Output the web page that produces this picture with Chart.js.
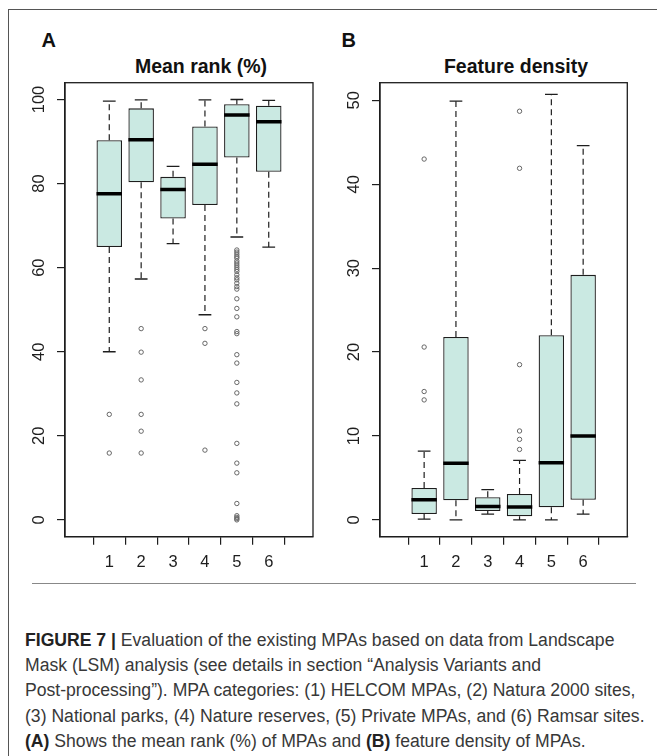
<!DOCTYPE html>
<html>
<head>
<meta charset="utf-8">
<script src="https://cdn.jsdelivr.net/npm/chart.js@4.4.1/dist/chart.umd.min.js"></script>
<style>
  body { margin: 0; background: #fff; font-family: "Liberation Sans", Arial, sans-serif; }
  #page { position: relative; width: 657px; height: 756px; overflow: hidden; background: #fff; }
  #frame { position: absolute; left: 8px; top: 9px; right: -10px; bottom: -10px;
           border-left: 1.5px solid #555; border-top: 1.5px solid #555; }
  .panel { position: absolute; font-weight: bold; font-size: 20px; line-height: 20px; color: #111; }
  .title { position: absolute; width: 300px; text-align: center; font-weight: bold;
           font-size: 19.5px; line-height: 19.5px; color: #111; }
  .wrap { position: absolute; top: 20px; width: 310px; height: 560px; }
  #rule { position: absolute; left: 32px; top: 583px; width: 604px; height: 0; border-top: 1.5px solid #888; }
  #caption { position: absolute; left: 25px; top: 628px; font-size: 17.6px; line-height: 25.2px;
             color: #383838; white-space: nowrap; }
  #caption b { color: #222; }
</style>
</head>
<body>
<div id="page">
  <div id="frame"></div>
  <div class="panel" style="left:41.5px; top:29.5px;">A</div>
  <div class="panel" style="left:341.5px; top:29.5px;">B</div>
  <div class="title" style="left:51px; top:57px;">Mean rank (%)</div>
  <div class="title" style="left:366px; top:57px;">Feature density</div>
  <div class="wrap" style="left:20px;"><canvas id="chartA" width="310" height="560"></canvas></div>
  <div class="wrap" style="left:335px;"><canvas id="chartB" width="310" height="560"></canvas></div>
  <div id="rule"></div>
  <div id="caption"><b>FIGURE 7 |</b> Evaluation of the existing MPAs based on data from Landscape<br>Mask (LSM) analysis (see details in section “Analysis Variants and<br>Post-processing”). MPA categories: (1) HELCOM MPAs, (2) Natura 2000 sites,<br>(3) National parks, (4) Nature reserves, (5) Private MPAs, and (6) Ramsar sites.<br><b>(A)</b> Shows the mean rank (%) of MPAs and <b>(B)</b> feature density of MPAs.</div>
</div>
<script>
// MPA categories on the x axis
const groups = ['1', '2', '3', '4', '5', '6'];

// Panel A - mean rank (%)
const rankTicks = [0, 20, 40, 60, 80, 100];
const rankLow = [40.0, 57.3, 65.7, 48.8, 67.3, 64.9];
const rankQ1 = [64.9, 80.3, 71.7, 74.9, 86.2, 82.8];
const rankMed = [77.6, 90.4, 78.6, 84.6, 96.3, 94.7];
const rankQ3 = [90.3, 97.9, 81.6, 93.6, 98.9, 98.5];
const rankHigh = [99.6, 99.9, 84.1, 99.9, 100.0, 99.8];
const rankOut = [
  [25.1, 15.9],
  [45.5, 39.9, 33.3, 25.1, 21.1, 15.9],
  [],
  [45.5, 42.0, 16.6],
  [64.2, 63.7, 63.2, 62.7, 62.3, 61.6, 61.1, 60.6, 60.1, 59.6, 59.1, 58.3, 57.6, 57.1,
   56.3, 55.5, 54.9, 52.6, 50.3, 48.3, 44.8, 44.3, 39.3, 37.3, 32.7, 30.2, 27.6, 18.2,
   13.5, 11.2, 3.9, 1.0, 0.6, 0.3, 0.0],
  []
];

// Panel B - feature density
const densTicks = [0, 10, 20, 30, 40, 50];
const densLow = [0.1, 0.0, 0.7, 0.0, 0.0, 0.7];
const densQ1 = [0.7, 2.35, 1.07, 0.44, 1.5, 2.4];
const densMed = [2.4, 6.75, 1.6, 1.55, 6.8, 10.0];
const densQ3 = [3.8, 21.8, 2.7, 3.1, 22.0, 29.2];
const densHigh = [8.2, 49.9, 3.6, 7.1, 50.7, 44.6];
const densOut = [
  [43.0, 20.6, 15.3, 14.3],
  [],
  [],
  [48.7, 41.9, 18.5, 10.6, 9.6, 8.4],
  [],
  []
];

const FAMILY = '"Liberation Sans", Arial, sans-serif';
const INK = '#1e1e1e';
Chart.defaults.font.family = FAMILY;
Chart.defaults.color = INK;

// R style box plot pieces (box = 0.8 wide, staple = half of that)
const HALF_BOX = 0.4;
const HALF_CAP = 0.2;

function segments(list) {
  // list of [x1, y1, x2, y2] -> points with null breaks between segments
  const pts = [];
  list.forEach(s => {
    pts.push({x: s[0], y: s[1]}, {x: s[2], y: s[3]}, {x: s[0], y: null});
  });
  return pts;
}

function boxDatasets(low, q1, med, q3, high, out) {
  const whisk = [], caps = [], meds = [], pts = [];
  groups.forEach((g, i) => {
    const x = i + 1;
    whisk.push([x, q3[i], x, high[i]], [x, q1[i], x, low[i]]);
    caps.push([x - HALF_CAP, high[i], x + HALF_CAP, high[i]], [x - HALF_CAP, low[i], x + HALF_CAP, low[i]]);
    meds.push([x - HALF_BOX, med[i], x + HALF_BOX, med[i]]);
    out[i].forEach(v => pts.push({x: x, y: v}));
  });
  const line = {type: 'line', pointRadius: 0, tension: 0, spanGaps: false, borderColor: INK};
  return [
    {type: 'bar', order: 3, data: groups.map((g, i) => ({x: i + 1, y: [q1[i], q3[i]]})),
     backgroundColor: '#cae9e2', borderColor: INK, borderWidth: 1.3, borderSkipped: false,
     categoryPercentage: 0.8, barPercentage: 1},
    Object.assign({}, line, {order: 4, data: segments(whisk), borderWidth: 1.2, borderDash: [6, 4]}),
    Object.assign({}, line, {order: 4, data: segments(caps), borderWidth: 1.3}),
    Object.assign({}, line, {order: 1, data: segments(meds), borderWidth: 3.5, borderColor: '#000'}),
    {type: 'scatter', order: 0, data: pts, pointRadius: 2.2, pointBorderWidth: 1,
     pointBorderColor: '#666', pointBackgroundColor: 'rgba(0,0,0,0)'}
  ];
}

// box around the plot region
const frameBox = {
  id: 'frameBox',
  afterDatasetsDraw(chart) {
    const a = chart.chartArea, ctx = chart.ctx;
    ctx.save();
    ctx.strokeStyle = INK;
    ctx.lineWidth = 1.3;
    ctx.strokeRect(a.left, a.top, a.right - a.left, a.bottom - a.top);
    ctx.restore();
  }
};

function textWidth(str, size) {
  const c = document.createElement('canvas').getContext('2d');
  c.font = size + 'px ' + FAMILY;
  return c.measureText(str).width;
}

function makeChart(id, sets, yTicks, yMin, yMax, padRight) {
  const tickSize = 16.5;
  const widest = Math.max.apply(null, yTicks.map(t => textWidth(String(t), tickSize)));
  return new Chart(document.getElementById(id), {
    type: 'bar',
    data: {datasets: sets},
    options: {
      responsive: false,
      animation: false,
      layout: {padding: {top: 62.7, right: padRight, left: 0, bottom: 0}},
      plugins: {legend: {display: false}, tooltip: {enabled: false}, title: {display: false}},
      scales: {
        x: {
          type: 'linear', min: 0.26, max: 6.74,
          afterBuildTicks: s => { s.ticks = groups.map((g, i) => ({value: i + 1})); },
          afterFit: s => { s.height = 43.3; },
          grid: {display: true, drawOnChartArea: false, drawTicks: true, tickLength: 8, color: INK, lineWidth: 1.2},
          border: {display: true, color: INK, width: 1.3},
          ticks: {padding: 8, font: {size: tickSize}, color: INK,
                  callback: (v, i) => groups[i], maxRotation: 0, autoSkip: false}
        },
        y: {
          type: 'linear', min: yMin, max: yMax,
          afterBuildTicks: s => { s.ticks = yTicks.map(v => ({value: v})); },
          afterFit: s => { s.width = 45; },
          grid: {display: true, drawOnChartArea: false, drawTicks: true, tickLength: 8, color: INK, lineWidth: 1.2},
          border: {display: true, color: INK, width: 1.3},
          ticks: {minRotation: 90, maxRotation: 90, crossAlign: 'center', autoSkip: false,
                  padding: 18 - widest / 2, font: {size: tickSize}, color: INK}
        }
      }
    },
    plugins: [frameBox]
  });
}

makeChart('chartA', boxDatasets(rankLow, rankQ1, rankMed, rankQ3, rankHigh, rankOut), rankTicks, -4, 104, 17);
makeChart('chartB', boxDatasets(densLow, densQ1, densMed, densQ3, densHigh, densOut), densTicks, -2, 52.1, 17.7);
</script>
</body>
</html>
